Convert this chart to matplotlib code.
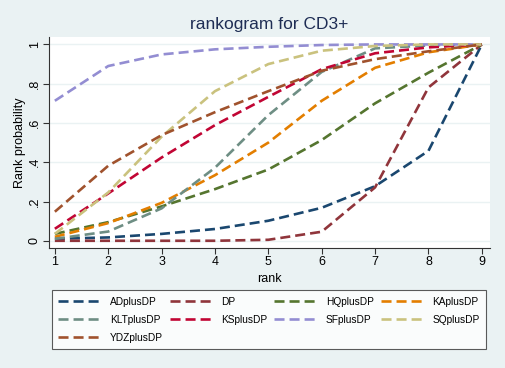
import matplotlib.pyplot as plt

plt.rcParams['font.family'] = ['Liberation Sans', 'DejaVu Sans']

ranks = [1, 2, 3, 4, 5, 6, 7, 8, 9]

# cumulative rank probabilities
ADplusDP = [0.010, 0.017, 0.035, 0.060, 0.102, 0.168, 0.278, 0.458, 1.0]
DP = [0.000, 0.000, 0.000, 0.000, 0.005, 0.046, 0.272, 0.781, 1.0]
HQplusDP = [0.035, 0.095, 0.175, 0.263, 0.363, 0.513, 0.700, 0.856, 1.0]
KAplusDP = [0.020, 0.090, 0.193, 0.334, 0.500, 0.713, 0.881, 0.960, 1.0]
KLTplusDP = [0.010, 0.047, 0.165, 0.372, 0.640, 0.860, 0.980, 0.995, 1.0]
KSplusDP = [0.061, 0.241, 0.424, 0.589, 0.733, 0.874, 0.955, 0.985, 1.0]
SFplusDP = [0.713, 0.890, 0.949, 0.975, 0.988, 0.997, 1.0, 1.0, 1.0]
SQplusDP = [0.035, 0.246, 0.530, 0.762, 0.900, 0.968, 0.992, 1.0, 1.0]
YDZplusDP = [0.148, 0.382, 0.538, 0.655, 0.762, 0.866, 0.925, 0.965, 1.0]

names = ['ADplusDP', 'DP', 'HQplusDP', 'KAplusDP', 'KLTplusDP',
         'KSplusDP', 'SFplusDP', 'SQplusDP', 'YDZplusDP']
series = [ADplusDP, DP, HQplusDP, KAplusDP, KLTplusDP,
          KSplusDP, SFplusDP, SQplusDP, YDZplusDP]
colors = ['#1a476f', '#90353b', '#55752f', '#e37e00', '#6e8e84',
          '#c10534', '#938dd2', '#cac27e', '#a0522d']

bg = '#eaf2f3'
fig = plt.figure(figsize=(5.05, 3.68), dpi=100, facecolor=bg)
ax = fig.add_axes([0.097, 0.326, 0.873, 0.573])
ax.set_facecolor('white')

lines = []
for name, vals, c in zip(names, series, colors):
    ln, = ax.plot(ranks, vals, color=c, lw=1.9, dashes=(3.8, 1.9), label=name)
    lines.append(ln)

ax.set_xlim(0.89, 9.15)
ax.set_ylim(-0.037, 1.037)
ax.set_xticks(ranks)
ax.set_yticks([0, 0.2, 0.4, 0.6, 0.8, 1.0])
ax.set_yticklabels(['0', '.2', '.4', '.6', '.8', '1'], rotation=90, va='center')
ax.tick_params(labelsize=9, length=4, color='#333333', pad=2)
ax.grid(axis='y', color=bg, lw=1)
ax.set_axisbelow(True)
for s in ['top', 'right']:
    ax.spines[s].set_visible(False)
for s in ['left', 'bottom']:
    ax.spines[s].set_color('#333333')
    ax.spines[s].set_linewidth(0.8)

ax.set_xlabel('rank', fontsize=9, labelpad=3)
ax.set_ylabel('Rank probability', fontsize=9, labelpad=2)
ax.set_title('rankogram for CD3+', fontsize=12.5, color='#1e2d54', pad=6)

# matplotlib fills legend column-wise; this order gives Stata's row-wise layout
order = [0, 4, 8, 1, 5, 2, 6, 3, 7]
leg = fig.legend([lines[i] for i in order], [names[i] for i in order],
                 ncol=4, loc='lower left', bbox_to_anchor=(0.103, 0.052, 0.859, 0.157),
                 mode='expand', fontsize=7.3, handlelength=4.2, handletextpad=0.9,
                 columnspacing=1.0, labelspacing=0.8, borderpad=0.6,
                 borderaxespad=0.0, fancybox=False, frameon=True)
leg.get_frame().set_edgecolor('#333333')
leg.get_frame().set_linewidth(0.8)

fig.savefig('out.png', dpi=100, facecolor=bg)
